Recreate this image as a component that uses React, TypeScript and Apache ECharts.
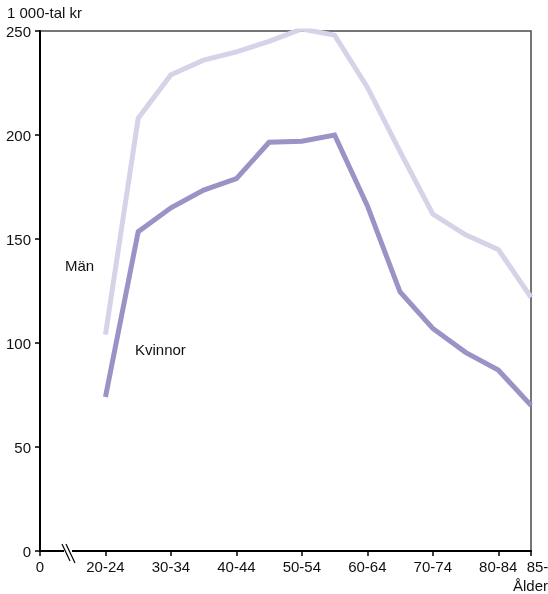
import React, { useEffect, useRef } from "react";
import * as echarts from "echarts";

const ageGroups = [
  "20-24", "25-29", "30-34", "35-39", "40-44", "45-49", "50-54",
  "55-59", "60-64", "65-69", "70-74", "75-79", "80-84", "85-",
];
const men = [104, 208, 229, 236, 240, 245, 251, 248, 223, 192, 162, 152, 145, 122];
const women = [74, 153.5, 165, 173.5, 179, 196.5, 197, 200, 166, 124.5, 107, 95.5, 87, 70];
const yTicks = [0, 50, 100, 150, 200, 250];
const xLabelPositions = [-2, 0, 2, 4, 6, 8, 10, 12, 13];

const FONT = "Liberation Sans, Arial, Helvetica, sans-serif";
const FS = 15;

export default function App() {
  const ref = useRef<HTMLDivElement>(null);
  useEffect(() => {
    if (!ref.current) return;
    const chart = echarts.init(ref.current, null, { renderer: "svg" });
    const labelFor = (v: number) => {
      if (v === -2) return "0";
      const i = Math.round(v);
      if (i === 13) return "{r|" + ageGroups[13] + "}";
      return ageGroups[i] ?? "";
    };
    chart.setOption({
      animation: false,
      textStyle: { fontFamily: FONT },
      grid: {
        left: 40,
        right: 17,
        top: 31,
        bottom: 43,
        containLabel: false,
        outerBoundsMode: "none",
        show: true,
        borderColor: "#4a4a4a",
        borderWidth: 1.5,
        backgroundColor: "transparent",
      },
      xAxis: {
        type: "value",
        min: -2,
        max: 13,
        interval: 1,
        splitLine: { show: false },
        axisLine: { show: true, onZero: false, lineStyle: { color: "#000", width: 2 } },
        axisTick: {
          show: true,
          length: 5,
          customValues: xLabelPositions,
          lineStyle: { color: "#000", width: 1.5 },
        },
        axisLabel: {
          customValues: xLabelPositions,
          formatter: labelFor,
          color: "#111",
          fontSize: FS,
          fontFamily: FONT,
          margin: 8,
          rich: {
            r: { fontSize: FS, fontFamily: FONT, color: "#111", padding: [0, 0, 0, 13] },
          },
        },
      },
      yAxis: {
        type: "value",
        min: 0,
        max: 250,
        interval: 50,
        splitLine: { show: false },
        axisLine: { show: true, onZero: false, lineStyle: { color: "#000", width: 2 } },
        axisTick: { show: true, length: 5, lineStyle: { color: "#000", width: 1.5 } },
        axisLabel: {
          color: "#111",
          fontSize: FS,
          fontFamily: FONT,
          margin: 9,
          formatter: (v: number) => (yTicks.includes(v) ? String(v) : ""),
        },
      },
      series: [
        {
          name: "Män",
          type: "line",
          data: men.map((v, i) => [i, v]),
          symbol: "none",
          lineStyle: { color: "#d6d2e8", width: 5, join: "miter", cap: "butt" },
          z: 2,
        },
        {
          name: "Kvinnor",
          type: "line",
          data: women.map((v, i) => [i, v]),
          symbol: "none",
          lineStyle: { color: "#9c92c6", width: 5, join: "miter", cap: "butt" },
          z: 3,
        },
      ],
      graphic: [
        {
          type: "text",
          left: 7,
          top: 5,
          style: { text: "1 000-tal kr", fontSize: FS, fontFamily: FONT, fill: "#111" },
        },
        {
          type: "text",
          left: 65,
          top: 258,
          style: { text: "Män", fontSize: FS, fontFamily: FONT, fill: "#111" },
        },
        {
          type: "text",
          left: 135,
          top: 342,
          style: { text: "Kvinnor", fontSize: FS, fontFamily: FONT, fill: "#111" },
        },
        {
          type: "text",
          right: 0,
          top: 578,
          style: { text: "Ålder", fontSize: FS, fontFamily: FONT, fill: "#111" },
        },
        {
          type: "rect",
          shape: { x: 64, y: 548, width: 8, height: 6 },
          style: { fill: "#fff" },
          z: 100,
        },
        {
          type: "line",
          shape: { x1: 62, y1: 544, x2: 70, y2: 561 },
          style: { stroke: "#000", lineWidth: 1.2 },
          z: 101,
        },
        {
          type: "line",
          shape: { x1: 66, y1: 544, x2: 75, y2: 563 },
          style: { stroke: "#000", lineWidth: 1.2 },
          z: 101,
        },
      ],
    });
    return () => chart.dispose();
  }, []);
  return (
    <div
      ref={ref}
      style={{ position: "fixed", left: 0, top: 0, width: 548, height: 594 }}
    />
  );
}
